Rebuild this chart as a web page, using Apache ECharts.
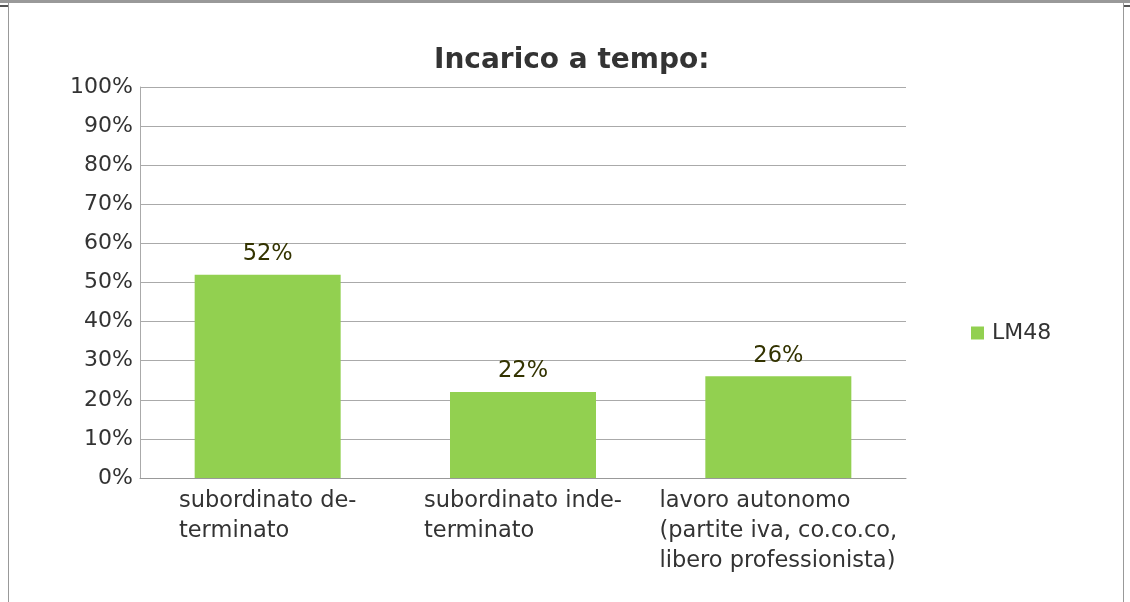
<!DOCTYPE html>
<html>
<head>
<meta charset="utf-8">
<script src="https://cdn.jsdelivr.net/npm/echarts@6/dist/echarts.min.js"></script>
<style>
  html, body { margin: 0; padding: 0; background: #fff; }
  #chart { width: 1130px; height: 602px; }
</style>
</head>
<body>
<div id="chart"></div>
<script>
// dati del grafico
const categories = [
  'subordinato de-\nterminato',
  'subordinato inde-\nterminato',
  'lavoro autonomo\n(partite iva, co.co.co,\nlibero professionista)'
]
const lm48 = [52, 22, 26]
const yTicks = [0, 10, 20, 30, 40, 50, 60, 70, 80, 90, 100]

const font = '"DejaVu Sans", sans-serif'
const chart = echarts.init(document.getElementById('chart'))

chart.setOption({
  backgroundColor: '#fff',
  animation: false,
  title: {
    text: 'Incarico a tempo:',
    left: 429,
    top: 42,
    textStyle: { fontFamily: font, fontSize: 28, fontWeight: 'bold', color: '#333' }
  },
  legend: {
    data: ['LM48'],
    left: 966,
    top: 317,
    icon: 'rect',
    itemWidth: 13,
    itemHeight: 13,
    itemGap: 8,
    textStyle: { fontFamily: font, fontSize: 22, color: '#333', padding: [0, 0, 0, 3] }
  },
  grid: { left: 140, right: 224, top: 87, bottom: 124 },
  xAxis: {
    type: 'category',
    data: categories,
    axisLine: { lineStyle: { color: '#999', width: 1 } },
    axisTick: { show: false },
    axisLabel: {
      interval: 0,
      margin: 8,
      align: 'center',
      formatter: v => v.split('\n').map(l => '{a|' + l + '}').join('\n'),
      rich: {
        a: { fontFamily: font, fontSize: 22.5, color: '#333', lineHeight: 30, align: 'left' }
      }
    }
  },
  yAxis: {
    type: 'value',
    min: yTicks[0],
    max: yTicks[yTicks.length - 1],
    interval: yTicks[1] - yTicks[0],
    axisLine: { show: true, lineStyle: { color: '#aaa', width: 1 } },
    axisTick: { show: false },
    splitLine: { lineStyle: { color: '#aaa', width: 1 } },
    axisLabel: {
      margin: 7,
      padding: [4, 0, 0, 0],
      formatter: '{value}%',
      fontFamily: font,
      fontSize: 22,
      color: '#333'
    }
  },
  series: [{
    name: 'LM48',
    type: 'bar',
    data: lm48,
    barWidth: 146,
    itemStyle: { color: '#92d050' },
    label: {
      show: true,
      position: 'top',
      distance: 9,
      formatter: p => p.value + '%',
      fontFamily: font,
      fontSize: 22.5,
      color: '#333300'
    }
  }],
  graphic: [
    { type: 'rect', shape: { x: 0, y: 0, width: 1130, height: 3 }, style: { fill: '#999' }, silent: true },
    { type: 'rect', shape: { x: 0, y: 5, width: 8, height: 2 }, style: { fill: '#555' }, silent: true },
    { type: 'rect', shape: { x: 1124, y: 5, width: 6, height: 2 }, style: { fill: '#555' }, silent: true },
    { type: 'rect', shape: { x: 8, y: 3, width: 1, height: 599 }, style: { fill: '#999' }, silent: true },
    { type: 'rect', shape: { x: 1123, y: 3, width: 1, height: 599 }, style: { fill: '#999' }, silent: true }
  ]
})
</script>
</body>
</html>
